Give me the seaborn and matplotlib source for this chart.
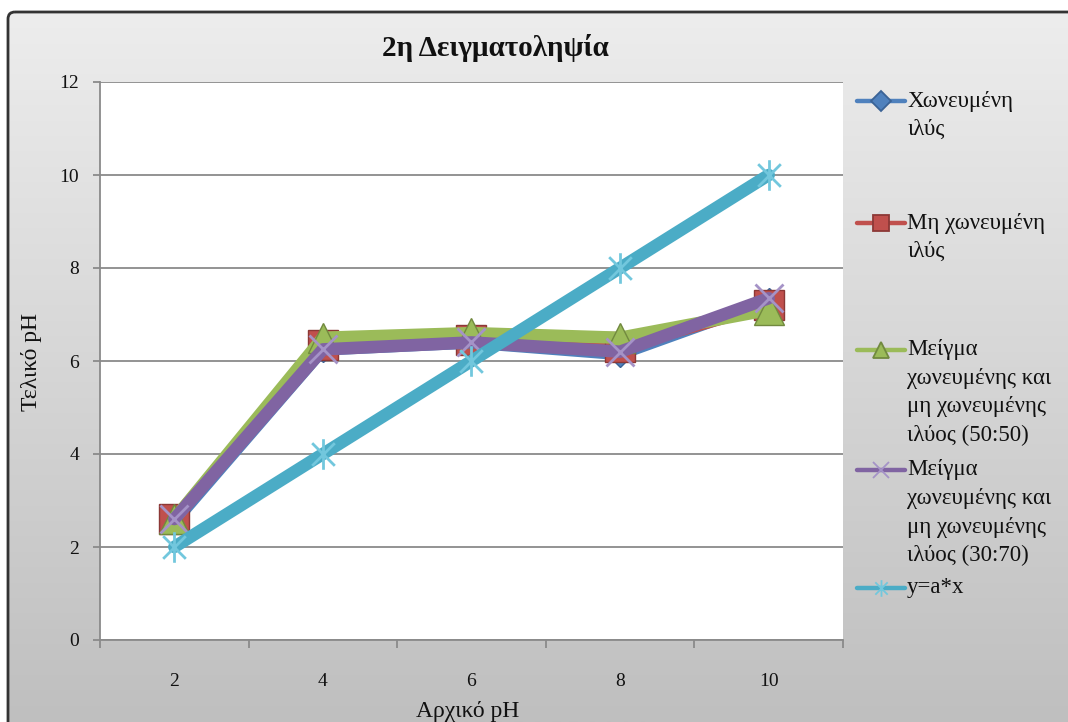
import numpy as np
import pandas as pd
import matplotlib
matplotlib.use("Agg")
import matplotlib.pyplot as plt
from matplotlib.path import Path
from matplotlib.lines import Line2D
from matplotlib.patches import FancyBboxPatch
import seaborn as sns

# --- data -------------------------------------------------------------
initial_ph = [2, 4, 6, 8, 10]
digested = [2.55, 6.25, 6.4, 6.15, 7.3]
undigested = [2.6, 6.35, 6.45, 6.3, 7.2]
mix_50_50 = [2.6, 6.5, 6.6, 6.5, 7.1]
mix_30_70 = [2.6, 6.25, 6.4, 6.2, 7.35]
reference_line = [2, 4, 6, 8, 10]

series_names = [
    "Χωνευμένη\nιλύς",
    "Μη χωνευμένη\nιλύς",
    "Μείγμα\nχωνευμένης και\nμη χωνευμένης\nιλύος (50:50)",
    "Μείγμα\nχωνευμένης και\nμη χωνευμένης\nιλύος (30:70)",
    "y=a*x",
]
title_text = "2η Δειγματοληψία"
x_label = "Αρχικό pH"
y_label = "Τελικό pH"
y_ticks = [0, 2, 4, 6, 8, 10, 12]

# --- styling ----------------------------------------------------------
sns.set_theme(style="white")
plt.rcParams["font.family"] = ["Liberation Serif", "DejaVu Serif"]

W, H = 1068, 722
fig = plt.figure(figsize=(W / 100, H / 100), dpi=100)
fig.patch.set_facecolor("white")

# chart-area background: vertical grey gradient with a dark rounded frame
bg = fig.add_axes([0, 0, 1, 1], zorder=-10)
bg.set_axis_off()
grad = np.linspace(237, 191, 400)[:, None, None] * np.ones((1, 1, 3)) / 255.0
bg.imshow(grad, extent=(8, W + 20, H, 12), aspect="auto", interpolation="bilinear")
bg.add_patch(FancyBboxPatch((8, 12), W + 30, H + 30,
                            boxstyle="round,pad=0,rounding_size=7",
                            ec="#333333", fc="none", lw=2))
bg.set_xlim(0, W)
bg.set_ylim(H, 0)

# plot area
ax = fig.add_axes([100 / W, 82 / H, 743 / W, 558 / H])
ax.set_facecolor("white")

star = Path([(-1, -1), (1, 1), (-1, 1), (1, -1), (0, -1.35), (0, 1.35)],
            [Path.MOVETO, Path.LINETO, Path.MOVETO, Path.LINETO,
             Path.MOVETO, Path.LINETO])

styles = [
    dict(color="#4F81BD", marker="D", ms=13, mfc="#4F81BD", mec="#3A6396", mew=1),
    dict(color="#C0504D", marker="s", ms=22, mfc="#C0504D", mec="#8C3836", mew=1),
    dict(color="#9BBB59", marker="^", ms=22, mfc="#9BBB59", mec="#71893F", mew=1),
    dict(color="#8064A2", marker="x", ms=20, mfc="none", mec="#A593C7", mew=2),
    dict(color="#4BACC6", marker=star, ms=22, mfc="none", mec="#72C7DD", mew=2),
]
values = [digested, undigested, mix_50_50, mix_30_70, reference_line]

for i, (name, vals, st) in enumerate(zip(series_names, values, styles)):
    df = pd.DataFrame({"x": initial_ph, "y": vals})
    sns.lineplot(data=df, x="x", y="y", ax=ax, sort=False, color=st["color"],
                 marker=st["marker"], markersize=st["ms"],
                 markerfacecolor=st["mfc"], markeredgecolor=st["mec"],
                 markeredgewidth=st["mew"], linewidth=9,
                 solid_capstyle="round", solid_joinstyle="round",
                 zorder=3 + i, label=None, legend=False)

ax.set_xlim(1, 11)
ax.set_ylim(0, 12)
ax.set_yticks(y_ticks)
ax.set_xticks(initial_ph)
ax.set_xticklabels([str(v) for v in initial_ph])
ax.set_xticks([1, 3, 5, 7, 9, 11], minor=True)
ax.set_xlabel("")
ax.set_ylabel("")

gc = "#8A8A8A"
ax.yaxis.grid(True, color=gc, lw=1.3, zorder=1)
ax.set_axisbelow(True)
for side in ("top", "right"):
    ax.spines[side].set_visible(False)
for side in ("left", "bottom"):
    ax.spines[side].set_color(gc)
    ax.spines[side].set_linewidth(1.3)

ax.tick_params(axis="y", which="major", direction="out", length=5, width=1.3,
               color=gc, pad=10, labelsize=14, labelcolor="#111111", left=True)
ax.tick_params(axis="x", which="major", length=0, pad=24, labelsize=14,
               labelcolor="#111111")
ax.tick_params(axis="x", which="minor", direction="out", length=6, width=1.3,
               color=gc, bottom=True)

def fx(px):
    return px / W

def fy(py):
    return 1 - py / H

fig.text(fx(495), fy(48), title_text, ha="center", va="center",
         fontsize=21, fontweight="bold", color="#111111")
fig.text(fx(468), fy(711), x_label, ha="center", va="center",
         fontsize=17, color="#111111")
fig.text(fx(32), fy(362), y_label, ha="center", va="center",
         rotation=90, fontsize=17, color="#111111")

# legend to the right of the plot area
entry_y = [101, 223, 350, 470, 588]
line_step = 28.5
legend_sizes = [10, 12, 12, 11, 12]
for name, st, ey, lms in zip(series_names, styles, entry_y, legend_sizes):
    fig.add_artist(Line2D([fx(857), fx(905)], [fy(ey), fy(ey)],
                          transform=fig.transFigure, color=st["color"], lw=3.2))
    fig.add_artist(Line2D([fx(881)], [fy(ey)], transform=fig.transFigure,
                          marker=st["marker"], ms=lms, mfc=st["mfc"],
                          mec=st["mec"], mew=1.3, lw=0))
    for k, line in enumerate(name.split("\n")):
        fig.text(fx(907), fy(ey + k * line_step), line, ha="left", va="center",
                 fontsize=16.5, color="#111111")

fig.savefig("out.png", dpi=100)
